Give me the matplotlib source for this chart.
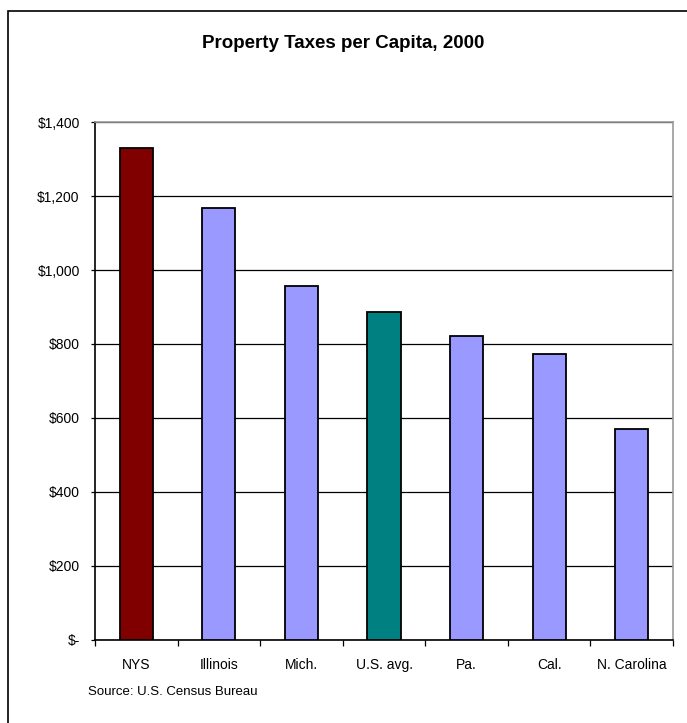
import matplotlib
matplotlib.use("Agg")
import matplotlib.pyplot as plt
from matplotlib.patches import Rectangle
from matplotlib.ticker import FuncFormatter

# Data
states = ["NYS", "Illinois", "Mich.", "U.S. avg.", "Pa.", "Cal.", "N. Carolina"]
taxes = [1330, 1168, 956, 886, 822, 773, 571]
colors = ["#800000", "#9999FF", "#9999FF", "#008080", "#9999FF", "#9999FF", "#9999FF"]
y_ticks = [0, 200, 400, 600, 800, 1000, 1200, 1400]

plt.rcParams['font.family'] = ['Liberation Sans', 'DejaVu Sans']

fig = plt.figure(figsize=(6.87, 7.23), dpi=100)
ax = fig.add_axes([95 / 687, 1 - 640 / 723, (673 - 95) / 687, (640 - 122) / 723])

# Bars
x = range(len(states))
ax.bar(x, taxes, width=0.4, color=colors, edgecolor="black", linewidth=1.3, zorder=3)

# Axes ranges and grid
ax.set_xlim(-0.5, len(states) - 0.5)
ax.set_ylim(0, 1400)
ax.set_yticks(y_ticks)
ax.yaxis.grid(True, color="black", linewidth=0.9, zorder=0)
ax.set_axisbelow(True)


def money(v, pos):
    if v == 0:
        return "$-"
    return "${:,.0f}".format(v)


ax.yaxis.set_major_formatter(FuncFormatter(money))
ax.tick_params(axis="y", direction="out", length=3, width=0.9, pad=8, labelsize=10)

# x labels centred, tick marks between categories
ax.set_xticks(list(x))
ax.set_xticklabels(states)
ax.set_xticks([i - 0.5 for i in range(len(states) + 1)], minor=True)
ax.tick_params(axis="x", which="major", length=0, pad=13, labelsize=10)
ax.tick_params(axis="x", which="minor", direction="out", length=4, width=0.9)

# Spines like the Excel plot area
ax.spines["left"].set_color("black")
ax.spines["bottom"].set_color("black")
ax.spines["top"].set_color("#999999")
ax.spines["right"].set_color("#999999")
for s in ax.spines.values():
    s.set_linewidth(1.2)

# Title and source
fig.text(0.5, 1 - 44 / 723, "Property Taxes per Capita, 2000",
         ha="center", va="center", fontsize=13.5, fontweight="bold",
         family=["Liberation Sans Narrow", "Liberation Sans", "DejaVu Sans"])
fig.text(88 / 687, 1 - 692 / 723, "Source: U.S. Census Bureau",
         ha="left", va="center", fontsize=9.5)

# Outer chart border (runs past right and bottom edges)
fig.patches.append(Rectangle((8 / 687, -0.05), 1.2, 1 - 11 / 723 + 0.05,
                             transform=fig.transFigure, fill=False,
                             edgecolor="black", linewidth=1.2))

fig.savefig("out.png", dpi=100)
